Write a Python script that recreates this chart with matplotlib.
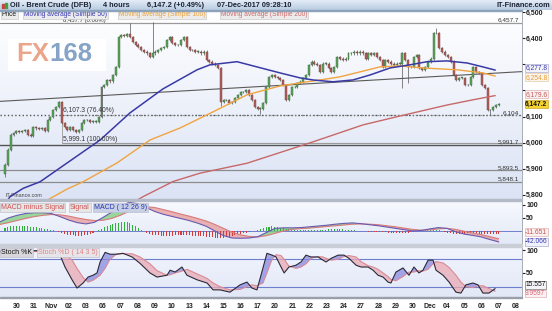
import numpy as np
import matplotlib
matplotlib.use("Agg")
import matplotlib.pyplot as plt
from matplotlib.colors import LinearSegmentedColormap
from matplotlib.patches import Rectangle

plt.rcParams['font.family'] = ['Liberation Sans', 'DejaVu Sans']

W, H = 552, 311

# 4-hour closes, Oil - Brent Crude (DFB), 30 Oct .. 07 Dec 2017
close = [5915, 5973, 6030, 6037, 6045, 6042, 6045, 6048, 6030, 6025,
         6060, 6055, 6052, 6055, 6045, 6087, 6098, 6125, 6137, 6156,
         6075, 6060, 6050, 6060, 6049, 6040, 6048, 6075, 6087, 6087,
         6080, 6080, 6080, 6098, 6213, 6220, 6240, 6235, 6259, 6290,
         6405, 6412, 6410, 6415, 6405, 6386, 6375,
         6367, 6355, 6348, 6342, 6328, 6342, 6348, 6355, 6363, 6367,
         6393, 6405, 6382, 6374, 6374, 6393, 6405, 6367, 6355, 6355,
         6348, 6348, 6342, 6348, 6317, 6310, 6303, 6298, 6286, 6156,
         6163, 6163, 6152, 6156, 6171, 6183, 6194, 6194, 6201, 6183,
         6163, 6137, 6130, 6130, 6152, 6213,
         6252, 6259, 6252, 6248, 6240, 6221, 6163, 6183, 6213, 6213,
         6228, 6233, 6248, 6259, 6298, 6310, 6303, 6298, 6271, 6303,
         6303, 6286, 6271, 6290, 6328, 6322, 6317, 6322, 6342, 6342,
         6348, 6342, 6348, 6342, 6322, 6342, 6336, 6342, 6328, 6317,
         6290, 6317, 6310, 6303, 6298, 6303,
         6303, 6342, 6317, 6290, 6290, 6328, 6336, 6286, 6279, 6290,
         6310, 6322, 6420, 6420, 6363, 6348, 6336, 6328, 6310, 6259,
         6240, 6248, 6248, 6221, 6221, 6252, 6290, 6271, 6267, 6221,
         6209, 6125, 6125, 6137, 6144, 6147.2]
first_open = 5880
wick_high = {44: 6460, 52: 6462, 152: 6440}
wick_low = {0: 5869, 76: 6140, 90: 6110, 140: 6210, 142: 6228, 171: 6104}

day_labels = ["30", "31", "Nov", "02", "03", "06", "07", "08", "09", "10",
              "13", "14", "15", "16", "17", "20", "21", "22", "23", "24",
              "27", "28", "29", "30", "Dec", "04", "05", "06", "07", "08"]

# moving averages (x in trading days from 30 Oct)
ma50_x = [-0.2, 0.09, 0.86, 1.84, 3.41, 5.33, 7.07, 8.99, 10.97, 11.72, 13.29, 14.45,
          15.79, 16.95, 17.71, 18.87, 20.03, 21.02, 22.19, 23.35, 24.34, 25.50,
          26.67, 27.59, 28.29]
ma50_y = [5760, 5793, 5825, 5850, 5922, 6010, 6114, 6206, 6279, 6298, 6310, 6290,
          6267, 6248, 6240, 6233, 6240, 6259, 6286, 6298, 6310, 6313,
          6305, 6290, 6278]
ma100_x = [2.13, 3.41, 4.34, 6.31, 8.23, 9.98, 11.90, 13.87, 15.79, 16.95, 18.12,
           19.28, 20.44, 21.60, 22.77, 24.10, 26.08, 27.59, 28.29]
ma100_y = [5775, 5822, 5850, 5922, 6010, 6056, 6118, 6183, 6217, 6229, 6240,
           6252, 6271, 6290, 6294, 6286, 6279, 6267, 6255]
ma200_x = [7.36, 7.83, 9.57, 11.14, 13.87, 17.71, 20.62, 22.77, 25.50, 27.01, 28.29]
ma200_y = [5775, 5793, 5851, 5883, 5921, 6003, 6068, 6102, 6144, 6164, 6180]

trend_x = [-0.49, 29.86]
trend_y = [6158, 6272]

level_price = [6457.7, 6104.0, 5991.7, 5893.5, 5848.1]
level_label = ["6,457.7", "6,104", "5,991.7", "5,893.5", "5,848.1"]
fib_start = 3.1
fib_price = [6457.7, 6107.3, 5999.1]
fib_label = ["6,457.7 (0.00%)", "6,107.3 (76.40%)", "5,999.1 (100.00%)"]

# MACD (12 26 9), sampled every half day
macd = [35, 50, 60, 67, 70, 70, 67, 55, 42, 32, 27, 33, 52, 72, 92, 110, 105, 90, 75, 64,
        56, 48, 40, 30, 18, 0, -18, -27, -28, -27, -22, -6, 10, 12, 12, 13, 16, 19, 22, 26,
        29, 31, 28, 24, 20, 15, 10, 5, 0, 2, 8, 13, 10, -3, -12, -17, -23, -33, -42]
signal = [25, 32, 40, 48, 55, 60, 63, 62, 57, 50, 44, 40, 41, 48, 60, 75, 88, 93, 90, 82,
          74, 65, 57, 48, 38, 25, 10, -5, -15, -21, -23, -18, -9, 0, 6, 9, 11, 14, 17, 20,
          23, 26, 27, 26, 24, 20, 16, 11, 6, 3, 4, 8, 10, 6, -1, -8, -14, -22, -30]
hist = [13, 15, 18, 19, 20, 20, 19, 19, 18, 16, 15, 14, 12, 10, 9, 7, 5, 3, 0, -4, -8,
        -11, -14, -16, -17, -18, -18, -18, -17, -15, -11, -8, -2, 3, 9, 15, 19, 23, 27,
        29, 31, 33, 34, 35, 30, 24, 18, 10, 4, -2, -6, -10, -14, -16, -17, -18, -18,
        -18, -18, -18, -17, -17, -17, -17, -17, -17, -18, -18, -19, -19, -20, -22,
        -23, -25, -27, -28, -28, -26, -24, -22, -19, -16, -13, -10, -8, -6, -3,
        -1, 1, 5, 8, 12, 15, 17, 19, 17, 15, 12, 10, 8, 6, 5, 4, 4, 4, 5, 5, 5,
        5, 5, 5, 5, 5, 5, 6, 6, 6, 6, 6, 6, 5, 5, 4, 3, 1, 0, -1, -2, -3, -3, -4, -4,
        -5, -5, -5, -6, -6, -6, -6, -6, -6, -6, -6, -4, -3, -1, 1, 2, 4, 4, 5, 5, 4,
        2, 0, -3, -6, -9, -10, -10, -11, -11, -10, -9, -9, -9, -9, -10, -10, -11, -11,
        -12, -12, -12, -12]

# Stochastic (14 3 5)
stoch_x = [-0.49, 0.67, 1.84, 2.53, 2.88, 3.29, 3.70, 3.99, 4.34, 4.63, 4.92, 5.15, 5.33,
           5.62, 5.91, 6.31, 6.66, 7.19, 7.65, 8.23, 8.64, 9.22, 9.40, 9.69, 10.09,
           10.38, 10.97, 11.55, 11.90, 12.30, 12.88, 13.47, 13.87, 14.16, 14.45, 14.80,
           15.03, 15.33, 15.56, 15.85, 16.03, 16.31, 16.72, 17.01, 17.30, 17.59, 18.00,
           18.29, 18.47, 18.76, 19.17, 19.51, 19.80, 20.21, 20.50, 20.91, 21.20, 21.49,
           21.78, 22.07, 22.24, 22.53, 22.94, 23.29, 23.58, 23.87, 24.10, 24.40, 24.69,
           24.86, 25.27, 25.62, 26.02, 26.31, 26.60, 27.01, 27.30, 27.59, 27.94, 28.29]
stoch_k = [97, 98, 99, 99, 100, 63, 35, 17, 28, 41, 45, 50, 74, 95, 91, 91, 93, 85, 71, 50,
           41, 45, 56, 52, 63, 45, 35, 28, 13, 13, 8, 24, 30, 17, 13, 61, 93, 89, 85, 63,
           50, 63, 67, 74, 89, 85, 85, 78, 74, 82, 89, 89, 82, 67, 63, 63, 56, 45, 41, 30,
           28, 52, 61, 45, 63, 50, 56, 78, 78, 56, 45, 30, 8, 6, 24, 28, 24, 6, 6, 15.557]
stoch_d = [95, 96, 97, 98, 99, 92, 78, 60, 40, 30, 34, 40, 45, 60, 80, 92, 92, 92, 85, 70,
           55, 45, 46, 50, 54, 58, 48, 38, 28, 20, 13, 14, 20, 24, 22, 28, 50, 80, 90, 88,
           80, 65, 60, 63, 70, 82, 86, 85, 82, 78, 80, 86, 88, 85, 75, 66, 63, 58, 50, 42,
           36, 33, 42, 52, 52, 55, 54, 58, 70, 75, 72, 62, 45, 30, 20, 18, 22, 22, 16, 9.9597]

# ---- figure ----
fig = plt.figure(figsize=(W / 100, H / 100), dpi=100)


def px_axes(x0, y0, x1, y1):
    return fig.add_axes([x0 / W, 1 - y1 / H, (x1 - x0) / W, (y1 - y0) / H])


def fpos(x, y):
    return x / W, 1 - y / H


def gradient(ax, c_top, c_bottom):
    cmap = LinearSegmentedColormap.from_list("g", [c_top, c_bottom])
    ax.imshow(np.linspace(0, 1, 64).reshape(-1, 1), extent=[0, 1, 0, 1],
              transform=ax.transAxes, cmap=cmap, aspect="auto", origin="upper", zorder=0)


def style_panel(ax, ylim, ticks, labels):
    ax.set_xlim(-0.49, 29.86)
    ax.set_ylim(*ylim)
    ax.set_yticks(ticks)
    ax.set_yticklabels(labels)
    ax.yaxis.tick_right()
    ax.tick_params(axis="y", length=2, pad=1, labelsize=5, colors="#222222")
    for lbl in ax.get_yticklabels():
        lbl.set_fontweight("bold")
    ax.set_xticks([])
    for s in ["top", "left", "bottom"]:
        ax.spines[s].set_visible(False)
    ax.spines["right"].set_color("#9aa0aa")
    ax.spines["right"].set_linewidth(0.6)


def right_box(ax, y, txt, color, fc, ec, bold=False):
    ax.text(1.006, y, txt, transform=ax.get_yaxis_transform(), ha="left", va="center",
            fontsize=4.8, color=color, fontweight="bold" if bold else "normal",
            bbox=dict(boxstyle="square,pad=0.06", fc=fc, ec=ec, lw=0.4),
            clip_on=False, zorder=20)


# title bar
tax = px_axes(0, 0, W, 10)
tax.axis("off")
gradient(tax, "#e3ecf6", "#b8cce2")
tax.set_xlim(0, 1)
tax.set_ylim(0, 1)
for x, t in [(10, "Oil - Brent Crude (DFB)"), (103, "4 hours"), (147, "6,147.2 (+0.49%)"),
             (217, "07-Dec-2017 09:28:10")]:
    fig.text(*fpos(x, 5.5), t, fontsize=5.3, fontweight="bold", color="#1c2233", va="center")
fig.text(*fpos(550, 5.5), "IT-Finance.com", fontsize=5.3, fontweight="bold", color="#1c2233",
         va="center", ha="right")
fig.add_artist(Rectangle(fpos(2, 8), 2 / W, 4 / H, transform=fig.transFigure, color="#d04040"))
fig.add_artist(Rectangle(fpos(5, 8), 2 / W, 5 / H, transform=fig.transFigure, color="#40a040"))

# price panel
ax = px_axes(0, 10, 522, 199)
gradient(ax, "#ffffff", "#dbe3f5")
bar_x = np.linspace(-0.2, 28.52, len(close))
c = np.array(close, dtype=float)
o = np.array([first_open] + close[:-1], dtype=float)
hi = np.maximum(o, c) + 5
lo = np.minimum(o, c) - 5
for i, v in wick_high.items():
    hi[i] = v
for i, v in wick_low.items():
    lo[i] = v
up = c >= o
ax.vlines(bar_x, lo, hi, color="#555555", lw=0.5, zorder=3)
body = np.maximum(np.abs(c - o), 1.5)
ax.bar(bar_x[up], body[up], bottom=o[up], width=0.115, color="#58a858",
       edgecolor="#3e5e3e", lw=0.3, zorder=4)
ax.bar(bar_x[~up], body[~up], bottom=c[~up], width=0.115, color="#b4605a",
       edgecolor="#6e3e3b", lw=0.3, zorder=4)

ax.plot(trend_x, trend_y, color="#5a5a5a", lw=0.8, zorder=2)
lv_style = [("-", "#8c8c8c", 0.8), (":", "#555555", 1.0), ("-", "#555555", 1.0),
            ("-", "#8c8c8c", 0.9), ("-", "#8c8c8c", 0.9)]
for p, lab, (ls, col, lw) in zip(level_price, level_label, lv_style):
    ax.axhline(p, ls=ls, color=col, lw=lw, zorder=2)
    ax.text(0.994, p + 2, lab, transform=ax.get_yaxis_transform(), ha="right", va="bottom",
            fontsize=4.6, color="#333333", zorder=6)
fib_style = [("-", "#9a9a9a"), (":", "#777777"), ("-", "#9a9a9a")]
fib_size = [4.3, 4.8, 4.8]
for p, lab, (ls, col), fs in zip(fib_price, fib_label, fib_style, fib_size):
    ax.hlines(p, fib_start, 29.86, ls=ls, color=col, lw=0.8, zorder=2)
    ax.text(fib_start + 0.05, p + 1, lab, ha="left", va="bottom", fontsize=fs,
            color="#333333", zorder=6)
ax.vlines(fib_start, fib_price[2], fib_price[1], color="#9a9a9a", lw=0.6, zorder=2)

ax.plot(ma200_x, ma200_y, color="#c86868", lw=1.0, zorder=5)
ax.plot(ma100_x, ma100_y, color="#f0a440", lw=1.0, zorder=5)
ax.plot(ma50_x, ma50_y, color="#3a3aa6", lw=1.1, zorder=5)

# 6,200 and 6,300 sit under the MA value boxes, as on the source chart
style_panel(ax, (5784, 6508), [5800, 5900, 6000, 6100, 6200, 6300, 6400, 6500],
            ["5,800", "5,900", "6,000", "6,100", "", "", "6,400", "6,500"])
right_box(ax, 6286, "6,277.8", "#3a3aa6", "#f2f3fb", "#9a9ac8")
right_box(ax, 6250, "6,254.8", "#e89a30", "#fbf6ee", "#e0c090")
right_box(ax, 6186, "6,179.6", "#c85a5a", "#fbf0f0", "#d8a0a0")
right_box(ax, 6148, "6,147.2", "#111111", "#f6d22c", "#b89a10", bold=True)

# FX168 watermark and source
ax.add_patch(Rectangle((0.016, 0.68), 0.185, 0.165, transform=ax.transAxes,
                       color="white", zorder=1))
ax.text(0.032, 0.765, "FX", transform=ax.transAxes, fontsize=18.5, fontweight="bold",
        color="#eba58a", va="center", ha="left", zorder=7)
ax.text(0.095, 0.765, "168", transform=ax.transAxes, fontsize=18.5, fontweight="bold",
        color="#86a4c8", va="center", ha="left", zorder=7)
ax.text(0.01, 0.005, "IT-Finance.com", transform=ax.transAxes, fontsize=3.8,
        color="#444444", va="bottom", ha="left", zorder=7)

# price legend
for x, t, col in [(2, "Price", "#111111"), (24, "Moving average (Simple 50)", "#3535b0"),
                  (119, "Moving average (Simple 100)", "#f0a030"),
                  (221, "Moving average (Simple 200)", "#d06868")]:
    fig.text(*fpos(x, 14.5), t, fontsize=4.8, color=col, va="center", ha="left",
             bbox=dict(boxstyle="square,pad=0.08", fc="#ececec", ec="#c0c0c0", lw=0.4))

# MACD panel
mx = np.arange(-0.5, 29.0, 0.5)[:len(macd)]
m = np.array(macd, dtype=float)
s = np.array(signal, dtype=float)
axm = px_axes(0, 201, 522, 244)
gradient(axm, "#f7f9fe", "#e3e9f7")
axm.axhline(0, color="#6f7fd0", lw=0.7, zorder=2)
axm.fill_between(mx, m, s, where=m >= s, interpolate=True, color="#7ccc7c", alpha=0.75, lw=0, zorder=3)
axm.fill_between(mx, m, s, where=m < s, interpolate=True, color="#e89a9a", alpha=0.75, lw=0, zorder=3)
hx = bar_x[:len(hist)]
hv = np.array(hist, dtype=float)
axm.bar(hx[hv >= 0], hv[hv >= 0], width=0.06, color="#2fae3a", zorder=4)
axm.bar(hx[hv < 0], hv[hv < 0], width=0.06, color="#d03a3a", zorder=4)
axm.plot(mx, s, color="#d87a7a", lw=0.8, zorder=5)
axm.plot(mx, m, color="#6a5ab0", lw=0.8, zorder=5)
style_panel(axm, (-50, 115), [50, 100], ["50", "100"])
right_box(axm, -4, "-11.651", "#d05050", "#fbf0f0", "#d8a0a0")
right_box(axm, -42, "-42.066", "#3a3ab0", "#f0f2fb", "#9a9ac8")
for x, t, col, fc in [(1, "MACD minus Signal", "#d05050", "#e6e6e6"),
                      (70, "Signal", "#d05050", "#e6e6e6"),
                      (94, "MACD ( 12 26 9)", "#2a36b0", "#c8d0e6")]:
    fig.text(*fpos(x, 207.5), t, fontsize=5.0, color=col, va="center", ha="left",
             bbox=dict(boxstyle="square,pad=0.12", fc=fc, ec="#b8b8c8", lw=0.4))

# Stoch panel
kx = np.array(stoch_x)
k = np.array(stoch_k, dtype=float)
d = np.array(stoch_d, dtype=float)
axs = px_axes(0, 247, 522, 297)
gradient(axs, "#f2f5fd", "#e2e8f7")
axs.axhline(80, color="#6f7fd0", lw=0.8, zorder=2)
axs.axhline(20, color="#6f7fd0", lw=0.8, zorder=2)
axs.fill_between(kx, k, d, where=k >= d, interpolate=True, color="#8a8ae0", alpha=0.75, lw=0, zorder=3)
axs.fill_between(kx, k, d, where=k < d, interpolate=True, color="#eaaab4", alpha=0.75, lw=0, zorder=3)
axs.plot(kx, d, color="#d88a94", lw=0.8, zorder=4)
axs.plot(kx, k, color="#2a2a38", lw=0.8, zorder=5)
style_panel(axs, (-2.6, 106.8), [50, 100], ["50", "100"])
right_box(axs, 24, "15.557", "#111111", "#f4f4f8", "#555555")
right_box(axs, 5, "9.9597", "#d86a7a", "#fbf0f2", "#d8a0a8")
axs.set_xticks(np.arange(len(day_labels)) + 0.5)
axs.set_xticklabels(day_labels)
axs.tick_params(axis="x", length=0, pad=4, labelsize=5, colors="#222222")
for lbl in axs.get_xticklabels():
    lbl.set_fontweight("bold")
for x, t, col, fc in [(1, "Stoch %K", "#111111", "#d8d8dc"),
                      (38, "Stoch %D ( 14 3 5)", "#e08080", "#e6e6ea")]:
    fig.text(*fpos(x, 252.5), t, fontsize=5.0, color=col, va="center", ha="left",
             bbox=dict(boxstyle="square,pad=0.12", fc=fc, ec="#b8b8c8", lw=0.4))

# panel separators
for y0, y1, col in [(9.5, 10.5, "#8da2bb"), (199, 201, "#b4bac6"), (244, 247, "#c9cdd6"),
                    (297, 298, "#9aa0aa")]:
    fig.add_artist(Rectangle(fpos(0, y1), 522 / W, (y1 - y0) / H,
                             transform=fig.transFigure, color=col, zorder=30))

fig.savefig("out.png", dpi=100)
